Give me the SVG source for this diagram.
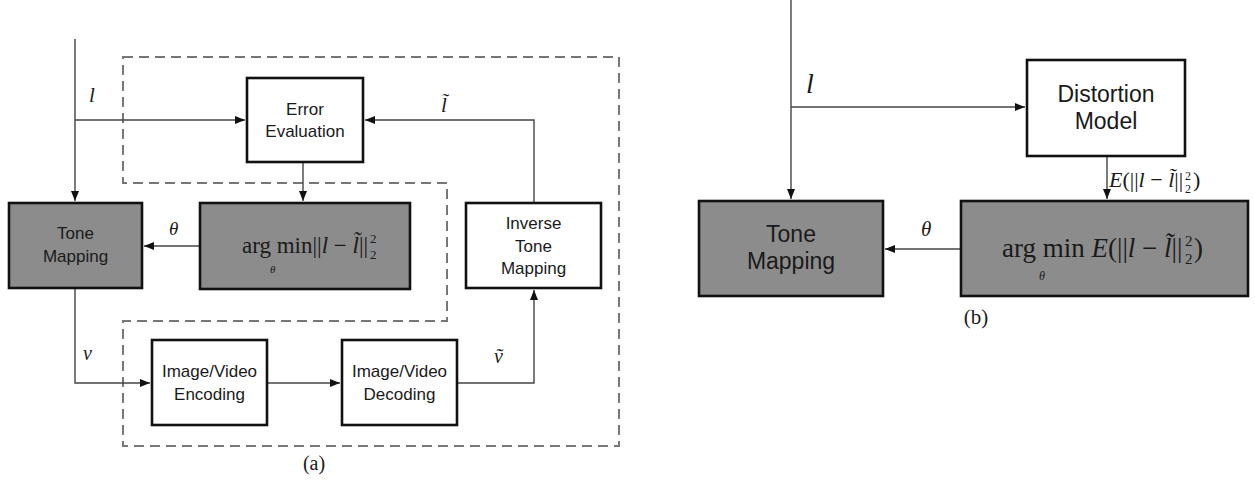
<svg xmlns="http://www.w3.org/2000/svg" width="1255" height="481" viewBox="0 0 1255 481">
<defs>
<marker id="arr" markerUnits="userSpaceOnUse" markerWidth="10" markerHeight="8" refX="10" refY="4" orient="auto">
<path d="M0,0 L10,4 L0,8 z" fill="#111"/>
</marker>
<style>
.box{fill:#fff;stroke:#111;stroke-width:2.6}
.gbox{fill:#8c8c8c;stroke:#111;stroke-width:2.6}
.lbl{font-family:"Liberation Sans",Arial,sans-serif;font-size:17px;fill:#1a1a1a;text-anchor:middle}
.lblb{font-family:"Liberation Sans",Arial,sans-serif;font-size:23px;fill:#1a1a1a;text-anchor:middle}
.m{font-family:"Liberation Serif","Times New Roman",serif;fill:#1a1a1a}
.mi{font-family:"Liberation Serif","Times New Roman",serif;font-style:italic;fill:#1a1a1a}
.i{font-style:italic}
.con{fill:none;stroke:#444;stroke-width:1.4}
.dash{fill:none;stroke:#777;stroke-width:2;stroke-dasharray:10 6}
</style>
</defs>
<rect width="1255" height="481" fill="#fff"/>

<g id="dashed-regions">
<path class="dash" d="M123,57 H619 V446 H123 V321 H447 V183 H123 Z"/>
</g>

<g id="connectors">
<path class="con" d="M75,39 V201" marker-end="url(#arr)"/>
<path class="con" d="M75,120 H245" marker-end="url(#arr)"/>
<path class="con" d="M303,162 V201" marker-end="url(#arr)"/>
<path class="con" d="M200,246 H144" marker-end="url(#arr)"/>
<path class="con" d="M75,288 V383 H150" marker-end="url(#arr)"/>
<path class="con" d="M267,383 H340" marker-end="url(#arr)"/>
<path class="con" d="M457,383 H534 V290" marker-end="url(#arr)"/>
<path class="con" d="M534,203 V120 H365" marker-end="url(#arr)"/>
<path class="con" d="M791,0 V199" marker-end="url(#arr)"/>
<path class="con" d="M791,107 H1025" marker-end="url(#arr)"/>
<path class="con" d="M1107,156 V199" marker-end="url(#arr)"/>
<path class="con" d="M961,249 H885" marker-end="url(#arr)"/>
</g>

<g id="edge-labels">
<text class="mi" x="89" y="102" font-size="21">l</text>
<text class="mi" x="441" y="112" font-size="21">l&#x303;</text>
<text class="mi" x="169" y="235" font-size="19">θ</text>
<text class="mi" x="83" y="360" font-size="20">v</text>
<text class="mi" x="494" y="363" font-size="20">v&#x303;</text>
<text class="mi" x="806" y="93" font-size="28">l</text>
<text class="mi" x="921" y="236" font-size="21">θ</text>
<g id="dist-label">
<text class="m" x="1109" y="187" font-size="22"><tspan class="i">E</tspan>(||<tspan class="i">l</tspan> − <tspan class="i">l&#x303;</tspan>||</text>
<text class="m" x="1185" y="180" font-size="12">2</text>
<text class="m" x="1185" y="193" font-size="12">2</text>
<text class="m" x="1193" y="187" font-size="22">)</text>
</g>
</g>

<g id="error-evaluation">
<rect class="box" x="247" y="78" width="116" height="84"/>
<text class="lbl" x="305" y="115">Error</text>
<text class="lbl" x="305" y="137">Evaluation</text>
</g>

<g id="argmin-a">
<rect class="gbox" x="200" y="203" width="210" height="86"/>
<text class="m" x="242" y="253" font-size="23">arg min||<tspan class="i">l</tspan> − <tspan class="i">l&#x303;</tspan>||</text>
<text class="mi" x="270" y="273" font-size="11">θ</text>
<text class="m" x="370" y="243" font-size="13">2</text>
<text class="m" x="370" y="259" font-size="13">2</text>
</g>

<g id="tone-mapping-a">
<rect class="gbox" x="9" y="203" width="133" height="85"/>
<text class="lbl" x="75.5" y="239">Tone</text>
<text class="lbl" x="75.5" y="262">Mapping</text>
</g>

<g id="inverse-tone-mapping">
<rect class="box" x="466" y="203" width="135" height="85"/>
<text class="lbl" x="533.5" y="229">Inverse</text>
<text class="lbl" x="533.5" y="252">Tone</text>
<text class="lbl" x="533.5" y="274">Mapping</text>
</g>

<g id="encoding">
<rect class="box" x="152" y="340" width="115" height="85"/>
<text class="lbl" x="209.5" y="377">Image/Video</text>
<text class="lbl" x="209.5" y="400">Encoding</text>
</g>

<g id="decoding">
<rect class="box" x="342" y="340" width="115" height="85"/>
<text class="lbl" x="399.5" y="377">Image/Video</text>
<text class="lbl" x="399.5" y="400">Decoding</text>
</g>

<g id="caption-a">
<text class="m" x="314" y="470" font-size="20" text-anchor="middle">(a)</text>
</g>

<g id="distortion-model">
<rect class="box" x="1027" y="60" width="158" height="96"/>
<text class="lblb" x="1106" y="102">Distortion</text>
<text class="lblb" x="1106" y="129">Model</text>
</g>

<g id="tone-mapping-b">
<rect class="gbox" x="699" y="201" width="184" height="95"/>
<text class="lblb" x="791" y="242">Tone</text>
<text class="lblb" x="791" y="269">Mapping</text>
</g>

<g id="argmin-b">
<rect class="gbox" x="961" y="201" width="287" height="95"/>
<text class="m" x="1002" y="257" font-size="27">arg min <tspan class="i">E</tspan>(||<tspan class="i">l</tspan> − <tspan class="i">l&#x303;</tspan>||</text>
<text class="mi" x="1039" y="280" font-size="12">θ</text>
<text class="m" x="1185" y="246" font-size="15">2</text>
<text class="m" x="1185" y="264" font-size="15">2</text>
<text class="m" x="1194" y="257" font-size="27">)</text>
</g>

<g id="caption-b">
<text class="m" x="976" y="324" font-size="21" text-anchor="middle">(b)</text>
</g>
</svg>
